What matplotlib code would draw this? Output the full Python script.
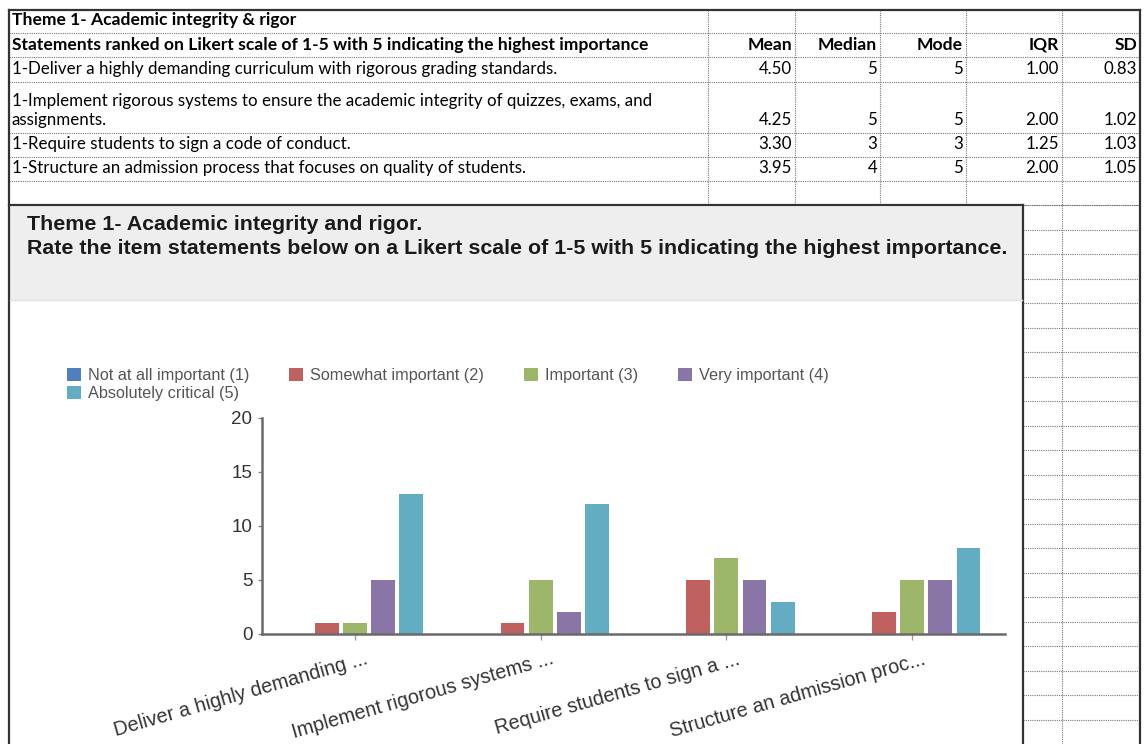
import numpy as np
import matplotlib
matplotlib.use("Agg")
import matplotlib.pyplot as plt
from matplotlib.patches import Rectangle
import matplotlib.transforms as mtransforms

# ---- table data ----
table_title = "Theme 1- Academic integrity & rigor"
table_header = "Statements ranked on Likert scale of 1-5 with 5 indicating the highest importance"
stat_names = ["Mean", "Median", "Mode", "IQR", "SD"]
statements = [
    "1-Deliver a highly demanding curriculum with rigorous grading standards.",
    "1-Implement rigorous systems to ensure the academic integrity of quizzes, exams, and\nassignments.",
    "1-Require students to sign a code of conduct.",
    "1-Structure an admission process that focuses on quality of students.",
]
means = ["4.50", "4.25", "3.30", "3.95"]
medians = ["5", "5", "3", "4"]
modes = ["5", "5", "3", "5"]
iqrs = ["1.00", "2.00", "1.25", "2.00"]
sds = ["0.83", "1.02", "1.03", "1.05"]

# ---- chart data ----
chart_title = ["Theme 1- Academic integrity and rigor.",
               "Rate the item statements below on a Likert scale of 1-5 with 5 indicating the highest importance."]
categories = ["Deliver a highly demanding ...", "Implement rigorous systems ...",
              "Require students to sign a ...", "Structure an admission proc..."]
series_names = ["Not at all important (1)", "Somewhat important (2)", "Important (3)",
                "Very important (4)", "Absolutely critical (5)"]
not_at_all = [0, 0, 0, 0]
somewhat = [1, 1, 5, 2]
important = [1, 5, 7, 5]
very = [5, 2, 5, 5]
critical = [13, 12, 3, 8]
series_values = [not_at_all, somewhat, important, very, critical]
colors = ["#4f7fbd", "#c0615f", "#9cb76a", "#8a76a6", "#63adc2"]

W, H = 1144, 744
fig = plt.figure(figsize=(W / 100, H / 100), dpi=100)
bg = fig.add_axes([0, 0, 1, 1])
bg.set_xlim(0, W)
bg.set_ylim(H, 0)
bg.axis("off")

tfont = "Lato"
row_edges = [10, 33, 57, 82, 133, 157, 181, 205]
col_edges = [708, 795, 880, 966, 1062, 1140]
left, right = 9, 1140

# dotted grid of the sheet
dot = dict(color="#777777", lw=0.8, ls=(0, (1, 1)))
for y in row_edges[1:]:
    bg.plot([left, right], [y, y], **dot)
for x in col_edges[:-1]:
    bg.plot([x, x], [row_edges[0], row_edges[-1]], **dot)
# sheet continues on the right of the chart panel
y = 205
while y < H:
    bg.plot([1023, right], [y, y], **dot)
    y += 24.5
bg.plot([1062, 1062], [205, H], **dot)

# borders
bg.plot([left, right], [10, 10], color="#333333", lw=1.6)
bg.plot([left, left], [10, H], color="#333333", lw=1.6)
bg.plot([right, right], [10, H], color="#333333", lw=1.6)
bg.plot([left, 1023], [205, 205], color="#333333", lw=1.6)
bg.plot([1023, 1023], [205, H], color="#333333", lw=1.6)

# table text
fs = 12.2
fsb = 12.6
bg.text(12, 20, table_title, fontsize=fsb, fontweight="bold", family=tfont, va="center")
bg.text(12, 45, table_header, fontsize=fsb, fontweight="bold", family=tfont, va="center")
for j, name in enumerate(stat_names):
    bg.text(col_edges[j + 1] - 3, 45, name, fontsize=fsb, fontweight="bold",
            family=tfont, va="center", ha="right")
cols = [means, medians, modes, iqrs, sds]
for i, s in enumerate(statements):
    ybot = row_edges[i + 3]
    lines = s.split("\n")
    for n, line in enumerate(lines):
        bg.text(12, ybot - 13 - 19 * (len(lines) - 1 - n), line, fontsize=fs,
                family=tfont, va="center")
    for j, c in enumerate(cols):
        bg.text(col_edges[j + 1] - 3, ybot - 13, c[i], fontsize=fs, family=tfont,
                va="center", ha="right")

# chart header band
bg.add_patch(Rectangle((10, 207), 1012, 93, facecolor="#eeeeee", edgecolor="none"))
bg.plot([10, 1022], [300, 300], color="#e2e2e2", lw=1)
for n, line in enumerate(chart_title):
    bg.text(27, 224 + 25 * n, line, fontsize=15.4, fontweight="bold",
            family="Liberation Sans", va="center", color="#1a1a1a")

# ---- bar chart ----
ax = fig.add_axes([262 / W, (H - 634) / H, (1005 - 262) / W, (634 - 418) / H])
x = np.arange(len(categories))
slot = 0.152
bw = 0.128
for k, (vals, c) in enumerate(zip(series_values, colors)):
    ax.bar(x + (k - 2) * slot, vals, width=bw, color=c, label=series_names[k], zorder=2)
ax.set_xlim(-0.5, len(categories) - 0.5)
ax.set_ylim(0, 20)
ax.set_yticks([0, 5, 10, 15, 20])
for sp in ["top", "right"]:
    ax.spines[sp].set_visible(False)
for sp in ["left", "bottom"]:
    ax.spines[sp].set_color("#6a6a6a")
    ax.spines[sp].set_linewidth(1.8)
ax.tick_params(axis="y", length=3, width=1, color="#888888", labelsize=13.5,
               labelcolor="#333333", pad=4)
ax.tick_params(axis="x", length=4, width=1, color="#999999", direction="out")
ax.set_xticks(x)
ax.set_xticklabels(categories, rotation=16, ha="right", rotation_mode="anchor",
                   fontsize=14.3, color="#333333", family="Liberation Sans")
offset = mtransforms.ScaledTranslation(10 / 100, -5 / 100, fig.dpi_scale_trans)
for lab in ax.get_xticklabels():
    lab.set_transform(lab.get_transform() + offset)
for lab in ax.get_yticklabels():
    lab.set_family("Liberation Sans")

handles, labels = ax.get_legend_handles_labels()
order = [0, 4, 1, 2, 3]
fig.legend([handles[i] for i in order], [labels[i] for i in order], ncol=4,
           loc="upper left", bbox_to_anchor=(67 / W, (H - 368) / H),
           frameon=False, handlelength=0.85, handleheight=0.85,
           handletextpad=0.45, columnspacing=2.45, labelspacing=0.2,
           borderpad=0, borderaxespad=0, labelcolor="#555555",
           prop={"family": "Liberation Sans", "size": 11.7})

fig.savefig("out.png", dpi=100)
